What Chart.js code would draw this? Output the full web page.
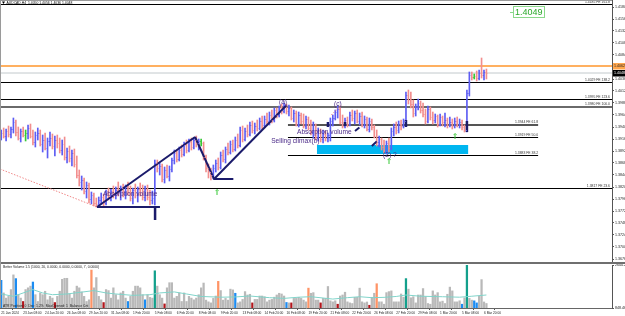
<!DOCTYPE html>
<html>
<head>
<meta charset="utf-8">
<script src="https://cdn.jsdelivr.net/npm/chart.js@4.4.1/dist/chart.umd.min.js"></script>
<style>
  html, body { margin: 0; padding: 0; background: #fff; }
  #wrap { position: relative; width: 625px; height: 316px; overflow: hidden; }
  #priceChart { position: absolute; left: 0; top: 0; }
  #volChart { position: absolute; left: 0; top: 262px; }
</style>
</head>
<body>
<div id="wrap">
  <canvas id="priceChart" width="625" height="262"></canvas>
  <canvas id="volChart" width="625" height="54"></canvas>
</div>
<script>
// H4 bars, one entry per bar (oldest first)
const opens = [
  1.3924,1.3928,1.3922,1.3932,1.3926,1.3936,1.3950,1.3930,1.3918,1.3932,
  1.3924,1.3928,1.3938,1.3922,1.3910,1.3924,1.3928,1.3906,1.3914,1.3898,
  1.3912,1.3918,1.3902,1.3914,1.3908,1.3894,1.3906,1.3880,1.3892,1.3878,
  1.3888,1.3866,1.3844,1.3830,1.3834,1.3812,1.3824,1.3796,1.3804,1.3788,
  1.3786,1.3794,1.3800,1.3788,1.3808,1.3802,1.3812,1.3804,1.3814,1.3808,
  1.3818,1.3806,1.3820,1.3810,1.3798,1.3814,1.3804,1.3816,1.3808,1.3800,
  1.3816,1.3800,1.3794,1.3798,1.3868,1.3858,1.3862,1.3836,1.3854,1.3842,
  1.3856,1.3874,1.3888,1.3876,1.3894,1.3886,1.3904,1.3894,1.3910,1.3900,
  1.3914,1.3908,1.3912,1.3908,1.3880,1.3858,1.3850,1.3844,1.3858,1.3868,
  1.3860,1.3884,1.3876,1.3896,1.3890,1.3906,1.3896,1.3914,1.3904,1.3934,
  1.3916,1.3932,1.3926,1.3944,1.3934,1.3942,1.3938,1.3952,1.3944,1.3956,
  1.3952,1.3964,1.3954,1.3974,1.3964,1.3978,1.3972,1.3984,1.3972,1.3978,
  1.3958,1.3968,1.3946,1.3964,1.3952,1.3942,1.3956,1.3938,1.3930,1.3944,
  1.3920,1.3932,1.3916,1.3926,1.3918,1.3924,1.3952,1.3958,1.3970,1.3976,
  1.3950,1.3942,1.3954,1.3946,1.3964,1.3958,1.3968,1.3952,1.3962,1.3944,
  1.3956,1.3936,1.3952,1.3940,1.3922,1.3910,1.3916,1.3900,1.3894,1.3908,
  1.3898,1.3932,1.3940,1.3934,1.3946,1.3942,1.3952,1.4004,1.3994,1.3986,
  1.3968,1.3980,1.3988,1.3974,1.3966,1.3952,1.3976,1.3960,1.3954,1.3962,
  1.3946,1.3960,1.3950,1.3954,1.3944,1.3950,1.3942,1.3952,1.3946,1.3950,
  1.3940,1.3934,1.4008,1.4044,1.4040,1.4042,1.4038,1.4048,1.4044,1.4050
];
const highs = [
  1.3934,1.3938,1.3936,1.3942,1.3940,1.3958,1.3954,1.3940,1.3936,1.3940,
  1.3934,1.3944,1.3946,1.3934,1.3930,1.3938,1.3934,1.3924,1.3928,1.3918,
  1.3930,1.3926,1.3922,1.3924,1.3918,1.3914,1.3920,1.3898,1.3902,1.3894,
  1.3896,1.3882,1.3854,1.3842,1.3838,1.3830,1.3828,1.3810,1.3808,1.3798,
  1.3800,1.3808,1.3806,1.3814,1.3818,1.3816,1.3822,1.3820,1.3830,1.3822,
  1.3826,1.3824,1.3830,1.3822,1.3818,1.3826,1.3820,1.3828,1.3824,1.3822,
  1.3824,1.3814,1.3812,1.3874,1.3874,1.3868,1.3866,1.3860,1.3864,1.3862,
  1.3878,1.3894,1.3894,1.3900,1.3904,1.3910,1.3914,1.3916,1.3918,1.3918,
  1.3922,1.3916,1.3916,1.3910,1.3884,1.3866,1.3858,1.3864,1.3874,1.3878,
  1.3890,1.3894,1.3900,1.3908,1.3912,1.3914,1.3920,1.3926,1.3940,1.3942,
  1.3938,1.3944,1.3950,1.3952,1.3948,1.3954,1.3958,1.3962,1.3962,1.3968,
  1.3970,1.3974,1.3978,1.3978,1.3982,1.3986,1.3988,1.3986,1.3984,1.3980,
  1.3974,1.3972,1.3970,1.3968,1.3966,1.3962,1.3960,1.3954,1.3950,1.3946,
  1.3938,1.3936,1.3934,1.3932,1.3928,1.3958,1.3964,1.3974,1.3982,1.3980,
  1.3964,1.3958,1.3960,1.3970,1.3974,1.3972,1.3974,1.3968,1.3970,1.3962,
  1.3960,1.3958,1.3956,1.3944,1.3934,1.3922,1.3918,1.3914,1.3912,1.3918,
  1.3938,1.3946,1.3950,1.3952,1.3954,1.3956,1.4010,1.4014,1.4010,1.3994,
  1.3986,1.3996,1.3992,1.3988,1.3976,1.3982,1.3980,1.3970,1.3966,1.3964,
  1.3966,1.3962,1.3968,1.3958,1.3960,1.3956,1.3958,1.3960,1.3956,1.3954,
  1.3944,1.4014,1.4050,1.4050,1.4046,1.4052,1.4054,1.4078,1.4054,1.4056
];
const lows = [
  1.3914,1.3918,1.3912,1.3920,1.3918,1.3928,1.3922,1.3914,1.3910,1.3920,
  1.3912,1.3916,1.3918,1.3904,1.3900,1.3914,1.3902,1.3890,1.3894,1.3878,
  1.3902,1.3896,1.3882,1.3898,1.3888,1.3884,1.3874,1.3868,1.3870,1.3862,
  1.3860,1.3838,1.3822,1.3814,1.3806,1.3798,1.3788,1.3786,1.3782,1.3780,
  1.3780,1.3786,1.3782,1.3784,1.3794,1.3792,1.3798,1.3796,1.3802,1.3794,
  1.3800,1.3796,1.3804,1.3792,1.3786,1.3798,1.3790,1.3802,1.3794,1.3792,
  1.3794,1.3784,1.3786,1.3784,1.3850,1.3844,1.3830,1.3828,1.3838,1.3832,
  1.3850,1.3866,1.3870,1.3872,1.3880,1.3882,1.3888,1.3890,1.3894,1.3896,
  1.3900,1.3894,1.3902,1.3874,1.3850,1.3838,1.3834,1.3836,1.3850,1.3854,
  1.3856,1.3870,1.3868,1.3884,1.3886,1.3890,1.3892,1.3898,1.3900,1.3910,
  1.3912,1.3920,1.3922,1.3928,1.3926,1.3932,1.3934,1.3936,1.3940,1.3946,
  1.3944,1.3948,1.3950,1.3958,1.3960,1.3966,1.3968,1.3966,1.3962,1.3954,
  1.3950,1.3942,1.3940,1.3946,1.3938,1.3936,1.3934,1.3924,1.3918,1.3914,
  1.3912,1.3910,1.3908,1.3912,1.3910,1.3912,1.3942,1.3954,1.3958,1.3946,
  1.3938,1.3938,1.3940,1.3942,1.3952,1.3946,1.3948,1.3944,1.3940,1.3938,
  1.3932,1.3930,1.3934,1.3918,1.3902,1.3900,1.3894,1.3888,1.3886,1.3890,
  1.3894,1.3922,1.3926,1.3928,1.3934,1.3938,1.3942,1.3986,1.3978,1.3960,
  1.3962,1.3974,1.3968,1.3960,1.3946,1.3948,1.3954,1.3946,1.3948,1.3940,
  1.3942,1.3942,1.3940,1.3938,1.3940,1.3936,1.3938,1.3940,1.3938,1.3934,
  1.3930,1.3930,1.4002,1.4034,1.4036,1.4032,1.4034,1.4038,1.4034,1.4036
];
const closes = [
  1.3928,1.3922,1.3932,1.3926,1.3936,1.3950,1.3930,1.3918,1.3932,1.3924,
  1.3928,1.3938,1.3922,1.3910,1.3924,1.3928,1.3906,1.3914,1.3898,1.3912,
  1.3918,1.3902,1.3914,1.3908,1.3894,1.3906,1.3880,1.3892,1.3878,1.3888,
  1.3866,1.3844,1.3830,1.3834,1.3812,1.3824,1.3796,1.3804,1.3788,1.3786,
  1.3794,1.3800,1.3788,1.3808,1.3802,1.3812,1.3804,1.3814,1.3808,1.3818,
  1.3806,1.3820,1.3810,1.3798,1.3814,1.3804,1.3816,1.3808,1.3800,1.3816,
  1.3800,1.3794,1.3798,1.3868,1.3858,1.3862,1.3836,1.3854,1.3842,1.3856,
  1.3874,1.3888,1.3876,1.3894,1.3886,1.3904,1.3894,1.3910,1.3900,1.3914,
  1.3908,1.3912,1.3908,1.3880,1.3858,1.3850,1.3844,1.3858,1.3868,1.3860,
  1.3884,1.3876,1.3896,1.3890,1.3906,1.3896,1.3914,1.3904,1.3934,1.3916,
  1.3932,1.3926,1.3944,1.3934,1.3942,1.3938,1.3952,1.3944,1.3956,1.3952,
  1.3964,1.3954,1.3974,1.3964,1.3978,1.3972,1.3984,1.3972,1.3978,1.3958,
  1.3968,1.3946,1.3964,1.3952,1.3942,1.3956,1.3938,1.3930,1.3944,1.3920,
  1.3932,1.3916,1.3926,1.3918,1.3924,1.3952,1.3958,1.3970,1.3976,1.3950,
  1.3942,1.3954,1.3946,1.3964,1.3958,1.3968,1.3952,1.3962,1.3944,1.3956,
  1.3936,1.3952,1.3940,1.3922,1.3910,1.3916,1.3900,1.3894,1.3908,1.3898,
  1.3932,1.3940,1.3934,1.3946,1.3942,1.3952,1.4004,1.3994,1.3986,1.3968,
  1.3980,1.3988,1.3974,1.3966,1.3952,1.3976,1.3960,1.3954,1.3962,1.3946,
  1.3960,1.3950,1.3954,1.3944,1.3950,1.3942,1.3952,1.3946,1.3950,1.3940,
  1.3934,1.4008,1.4044,1.4040,1.4042,1.4038,1.4048,1.4044,1.4050,1.4048
];
const greenBars = [10, 82, 194];

// Better Volume histogram
const volumes = [
  2004,1477,1262,1334,1618,2232,2076,1404,1262,1120,
  1618,1691,1762,1933,1404,1120,1477,1404,1548,1190,
  1334,1262,1076,1334,1548,2046,2089,2089,1434,1262,
  1548,1762,1691,1520,1334,1120,1190,2432,1691,2119,
  1334,1190,1076,1618,1576,1262,1691,1404,1190,1477,
  1548,1262,1120,1334,1548,1762,1762,1691,1404,1190,
  1404,1291,1262,2402,1762,1404,1262,1019,1691,1905,
  1905,1262,1334,1477,1120,1477,1120,1334,1262,1190,
  1262,1404,1691,1891,1177,1105,1062,1250,1349,1961,
  1576,1177,1250,1177,1636,1606,1464,1062,1105,1208,
  1533,1392,1422,1062,1208,1208,1349,1349,1319,1105,
  1177,1208,1300,1392,1464,1434,1349,1079,1062,1062,
  1250,1250,1293,1250,1177,1105,1678,1464,1490,1177,
  1177,1062,1250,1250,1747,1148,1105,1150,1006,1349,
  1392,1507,1105,1062,1036,1293,1293,1678,1105,1062,
  1100,963,1293,1464,1862,1105,1105,1006,1490,1533,
  1563,1105,1105,1105,1434,1300,2076,1636,1276,1319,
  1062,1392,1392,1660,1319,1036,1006,1563,1392,1490,
  1105,1135,1036,1422,1721,1563,1105,1105,1150,1006,
  1276,2644.23,1250,1177,1148,1062,1349,2034,1100,1036
];
const volBlue = [0, 6, 13, 52, 59, 96, 117, 189, 194, 195];
const volRed = [9, 22, 42, 67, 103, 119, 131, 138, 151];
const volSalmon = [37, 89, 126, 154];
const volTeal = [63, 166, 191];
const maBar = [0,5,13,17,21,27,38,43,47,54,61,65,71,76,82,90,96,102,110,116,122,127,136,142,147,152,157,162,166,172,181,188,193,199];
const maVal = [1434,1334,1618,1477,1404,1434,1576,1477,1434,1376,1404,1477,1520,1434,1330,1300,1310,1349,1280,1250,1300,1319,1222,1280,1319,1280,1293,1330,1392,1340,1319,1300,1340,1392];
const volMin = 848.46, volMax = 2644.23;

// axes
const priceMin = 1.3670, priceMax = 1.4194;
const yTicks = [1.4180,1.4156,1.4132,1.4108,1.4084,1.4060,1.4036,1.4012,1.3988,1.3964,1.3940,
                1.3916,1.3892,1.3868,1.3844,1.3820,1.3796,1.3772,1.3748,1.3724,1.3700,1.3676];
const slotMax = 250.5;
const xLabelBars = [0,9,18,27,36,45,54,63,72,81,90,99,108,117,126,135,144,153,162,171,180,189,198];
const xLabels = ['21 Jan 2024','23 Jan 08:00','24 Jan 20:00','26 Jan 08:00','29 Jan 20:00','31 Jan 08:00',
  '1 Feb 20:00','5 Feb 08:00','6 Feb 20:00','8 Feb 08:00','9 Feb 20:00','13 Feb 08:00','14 Feb 20:00',
  '16 Feb 08:00','19 Feb 20:00','21 Feb 08:00','22 Feb 20:00','26 Feb 08:00','27 Feb 20:00','29 Feb 08:00',
  '1 Mar 20:00','5 Mar 08:00','6 Mar 20:00'];

// horizontal levels
const levelPrices = [1.4185, 1.4029, 1.3995, 1.3980, 1.3817];
const levelTags = ['FE 161.8', 'FE 138.2', 'FE 123.6', 'FE 100.0', 'FE 23.6'];
const zonePrices = [1.3944, 1.3919, 1.3883];
const zoneTags = ['FE 61.8', 'FE 50.0', 'FE 38.2'];
const zoneLineFrom = 117.6, zoneLineTo = 220.2;
const alertLevel = 1.4062, bidLevel = 1.4048;
const boxFrom = 129.5, boxTo = 191.5, boxTop = 1.3904, boxBottom = 1.3886;

// drawn trendlines: [bar1, price1, bar2, price2]
const trendSegs = [
  [39.3, 1.3780, 79.5, 1.3920], [79.5, 1.3920, 87.3, 1.3836], [87.3, 1.3836, 117.1, 1.3984],
  [39.3, 1.3780, 65.1, 1.3780], [87.0, 1.3836, 95.2, 1.3836],
  [145.1, 1.3932, 146.9, 1.3939], [152.0, 1.3902, 154.0, 1.3911]
];
const stemSegs = [[63.1, 1.3780, 63.1, 1.3754], [134, 1.3950, 134, 1.3940], [141, 1.3950, 141, 1.3942],
  [166, 1.3954, 166, 1.3940], [191, 1.3952, 191, 1.3930]];
const dotSegs = [[-0.5, 1.3856, 39.3, 1.3780], [135.4, 1.3964, 139.5, 1.3984]];

// text objects
const noteText = ['Absorption volume', 'Selling climax(b)', 'Absorption volume', '(a)', '(c)', '(2) ?'];
const noteBar = [41.7, 110.7, 121.3, 113.9, 136.5, 156.6];
const notePrice = [1.3805, 1.3912, 1.3930, 1.3990, 1.3985, 1.3884];
const arrowBar = [88.5, 159.1, 186.1];
const arrowPrice = [1.3808, 1.3870, 1.3920];
const quoteText = '1.4049', quoteBar = 209.9, quotePrice = 1.4170;
const titleText = 'AUDCAD,H4  1.4050 1.4056 1.4036 1.4048';
const volTitle = 'Better Volume 1.5 (1000, 20, 0.0000, 0.0000, 0.0000, 7, 0.0000)';
const volFooter = 'ATR Position: 0  Dec: 1.2%  MaxOpened: 1  Balance Cnt';

const FONT = "'Liberation Sans', Arial, sans-serif";
const UP = '#5d5df3', DOWN = '#f28e8e', GREEN = '#35c835', NAVY = '#1b1b6b';

const barColors = opens.map((o, i) => greenBars.includes(i) ? GREEN : (closes[i] >= o ? UP : DOWN));

function seg(s, color, width, dash) {
  return {
    type: 'line', data: [{ x: s[0], y: s[1] }, { x: s[2], y: s[3] }],
    borderColor: color, borderWidth: width, borderDash: dash || [], pointRadius: 0, fill: false, order: 1
  };
}
function hline(v, from, to, color, width) {
  return {
    type: 'line', data: [{ x: from, y: v }, { x: to, y: v }],
    borderColor: color, borderWidth: width, pointRadius: 0, fill: false, order: 3
  };
}

const levelSets = [];
levelPrices.forEach((v, k) => levelSets.push(hline(v, -0.5, slotMax, k === 3 ? '#6a6a6a' : '#000', k === 3 ? 2 : 1)));
zonePrices.forEach((v, k) => levelSets.push(hline(v, zoneLineFrom, zoneLineTo, k === 0 ? '#555' : '#000', k === 0 ? 2 : 1)));
levelSets.push(hline(alertLevel, -0.5, slotMax, '#ffb060', 2));
levelSets.push(hline(bidLevel, -0.5, slotMax, '#c2c9cc', 1));

const priceDecor = {
  id: 'priceDecor',
  beforeDatasetsDraw(chart) {
    const { ctx, scales: { x, y } } = chart;
    const x1 = x.getPixelForValue(boxFrom), x2 = x.getPixelForValue(boxTo);
    const y1 = y.getPixelForValue(boxTop), y2 = y.getPixelForValue(boxBottom);
    ctx.save();
    ctx.fillStyle = '#00b6f0';
    ctx.fillRect(x1, y1, x2 - x1, y2 - y1);
    ctx.restore();
  },
  afterDatasetsDraw(chart) {
    const { ctx, scales: { x, y }, chartArea } = chart;
    ctx.save();

    // open / close ticks of the bars
    ctx.lineWidth = 1;
    opens.forEach((o, i) => {
      const px = x.getPixelForValue(i);
      const yo = Math.round(y.getPixelForValue(o)) + 0.5;
      const yc = Math.round(y.getPixelForValue(closes[i])) + 0.5;
      ctx.strokeStyle = barColors[i];
      ctx.beginPath();
      ctx.moveTo(px - 0.9, yo); ctx.lineTo(px, yo);
      ctx.moveTo(px, yc); ctx.lineTo(px + 0.9, yc);
      ctx.stroke();
    });

    // level captions
    ctx.font = `3.4px ${FONT}`;
    ctx.fillStyle = '#333';
    ctx.textAlign = 'right';
    ctx.textBaseline = 'bottom';
    levelPrices.forEach((v, k) => {
      ctx.fillText(`${v.toFixed(4)} ${levelTags[k]}`, chartArea.right - 2, y.getPixelForValue(v) - 1);
    });
    zonePrices.forEach((v, k) => {
      ctx.fillText(`${v.toFixed(4)} ${zoneTags[k]}`, x.getPixelForValue(zoneLineTo), y.getPixelForValue(v) - 1);
    });

    // wave notes
    ctx.font = `6.6px ${FONT}`;
    ctx.fillStyle = '#4b2a88';
    ctx.textAlign = 'left';
    ctx.textBaseline = 'middle';
    noteText.forEach((t, k) => ctx.fillText(t, x.getPixelForValue(noteBar[k]), y.getPixelForValue(notePrice[k])));

    // green arrows
    ctx.font = "8px 'DejaVu Sans', sans-serif";
    ctx.fillStyle = GREEN;
    ctx.textAlign = 'center';
    arrowBar.forEach((b, k) => ctx.fillText('\u21D1', x.getPixelForValue(b), y.getPixelForValue(arrowPrice[k])));

    // quote box
    ctx.font = `9px ${FONT}`;
    const tw = ctx.measureText(quoteText).width;
    const bx = Math.round(x.getPixelForValue(quoteBar)), by = Math.round(y.getPixelForValue(quotePrice));
    ctx.strokeStyle = '#8ad88a';
    ctx.strokeRect(bx + 0.5, by - 5.5, Math.round(tw) + 3, 11);
    ctx.beginPath(); ctx.moveTo(bx - 3, by + 0.5); ctx.lineTo(bx, by + 0.5); ctx.stroke();
    ctx.fillStyle = '#2aa82a';
    ctx.textAlign = 'left';
    ctx.fillText(quoteText, bx + 2, by + 0.5);

    // price tags on the axis
    const tag = (v, bg, fg) => {
      const ty = y.getPixelForValue(v);
      ctx.fillStyle = bg;
      ctx.fillRect(chartArea.right + 1, ty - 3, 12, 6.5);
      ctx.fillStyle = fg;
      ctx.font = `3.6px ${FONT}`;
      ctx.textAlign = 'left';
      ctx.textBaseline = 'middle';
      ctx.fillText(v.toFixed(4), chartArea.right + 2, ty + 0.3);
    };
    tag(alertLevel, '#ffa64d', '#222');
    tag(bidLevel, '#000', '#fff');

    // title and frame
    ctx.fillStyle = '#000';
    ctx.beginPath(); ctx.moveTo(2, 1.5); ctx.lineTo(5, 1.5); ctx.lineTo(3.5, 4); ctx.fill();
    ctx.font = `3.4px ${FONT}`;
    ctx.textAlign = 'left';
    ctx.textBaseline = 'middle';
    ctx.fillText(titleText, 6.5, 3);
    ctx.fillStyle = '#9a9a9a';
    ctx.fillRect(0, 0, 1, chartArea.bottom);
    ctx.fillRect(0, 0, chartArea.right, 1);
    ctx.restore();
  }
};

new Chart(document.getElementById('priceChart'), {
  type: 'bar',
  data: {
    datasets: [
      {
        type: 'bar',
        data: opens.map((o, i) => ({ x: i, y: [lows[i], highs[i]] })),
        backgroundColor: barColors,
        borderWidth: 0,
        barThickness: 1,
        order: 2
      },
      ...levelSets,
      ...trendSegs.map(s => seg(s, NAVY, 2)),
      ...stemSegs.map(s => seg(s, NAVY, 2.5)),
      ...dotSegs.map(s => seg(s, '#f08888', 1, [1.5, 1.5]))
    ]
  },
  options: {
    responsive: false,
    animation: false,
    events: [],
    layout: { padding: 0 },
    plugins: { legend: { display: false }, tooltip: { enabled: false } },
    scales: {
      x: { type: 'linear', min: -0.5, max: slotMax, offset: false, display: false },
      y: {
        position: 'right',
        min: priceMin,
        max: priceMax,
        afterFit: s => { s.width = 13; s.paddingTop = 0; s.paddingBottom = 0; },
        afterBuildTicks: s => { s.ticks = yTicks.map(v => ({ value: v })); },
        ticks: {
          autoSkip: false,
          padding: 1,
          color: '#222',
          font: { size: 3.6, family: FONT },
          callback: v => v.toFixed(4)
        },
        grid: { drawOnChartArea: false, tickLength: 2, color: '#555' },
        border: { display: true, color: '#555' }
      }
    }
  },
  plugins: [priceDecor]
});

// ---- volume panel ----
const volColors = volumes.map((v, i) => {
  if (volTeal.includes(i)) return '#13a08c';
  if (volSalmon.includes(i)) return '#ff9466';
  if (volRed.includes(i)) return '#b3161c';
  if (volBlue.includes(i)) return '#1c8cf2';
  return '#b9b9b9';
});
const maSeries = maBar.map((b, k) => ({ x: b, y: maVal[k] }));

const volDecor = {
  id: 'volDecor',
  afterDraw(chart) {
    const { ctx, chartArea } = chart;
    ctx.save();
    ctx.fillStyle = '#6f6f6f';
    ctx.fillRect(0, 0, 625, 2);
    ctx.fillStyle = '#9a9a9a';
    ctx.fillRect(0, 0, 1, chartArea.bottom);
    ctx.fillStyle = '#222';
    ctx.font = `3.4px ${FONT}`;
    ctx.textAlign = 'left';
    ctx.textBaseline = 'middle';
    ctx.fillText(volTitle, 3, 5);
    ctx.fillText(volFooter, 3, 44);
    ctx.restore();
  }
};

new Chart(document.getElementById('volChart'), {
  type: 'bar',
  data: {
    datasets: [
      {
        type: 'line', data: maSeries, borderColor: '#80d4ca', borderWidth: 1,
        pointRadius: 0, fill: false, order: 0
      },
      {
        type: 'bar', data: volumes.map((v, i) => ({ x: i, y: v })),
        backgroundColor: volColors, borderWidth: 0, barThickness: 1.6, order: 1
      }
    ]
  },
  options: {
    responsive: false,
    animation: false,
    events: [],
    layout: { padding: { top: 3, left: 0, right: 0, bottom: 0 } },
    plugins: { legend: { display: false }, tooltip: { enabled: false } },
    scales: {
      x: {
        type: 'linear', min: -0.5, max: slotMax, offset: false,
        afterFit: s => { s.height = 8; s.paddingLeft = 0; s.paddingRight = 0; },
        afterBuildTicks: s => { s.ticks = xLabelBars.map(v => ({ value: v })); },
        ticks: {
          autoSkip: false, maxRotation: 0, align: 'start', padding: 1,
          color: '#222', font: { size: 3.2, family: FONT },
          callback: (v, i) => xLabels[i]
        },
        grid: { drawOnChartArea: false, tickLength: 2, color: '#555' },
        border: { display: true, color: '#666' }
      },
      y: {
        position: 'right', min: volMin, max: volMax,
        afterFit: s => { s.width = 13; s.paddingTop = 0; s.paddingBottom = 0; },
        afterBuildTicks: s => { s.ticks = [volMin, volMax].map(v => ({ value: v })); },
        ticks: {
          autoSkip: false, padding: 1, color: '#222',
          font: { size: 3.6, family: FONT },
          callback: v => v.toFixed(2)
        },
        grid: { drawOnChartArea: false, tickLength: 2, color: '#555' },
        border: { display: true, color: '#555' }
      }
    }
  },
  plugins: [volDecor]
});
</script>
</body>
</html>
